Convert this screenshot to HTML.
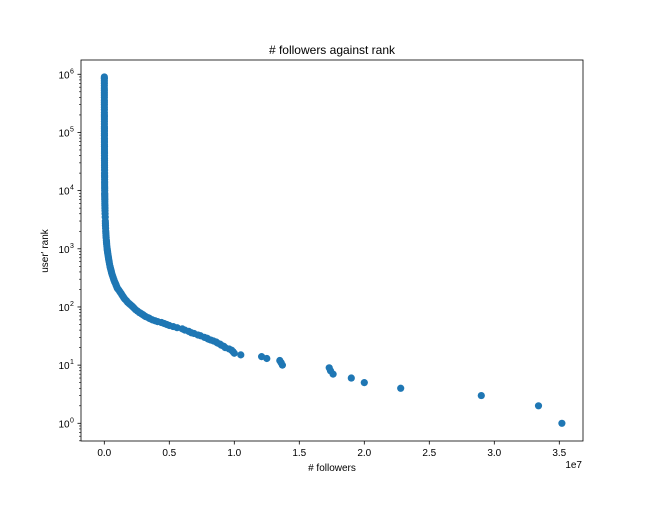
<!DOCTYPE html>
<html><head><meta charset="utf-8"><style>
body{margin:0;background:#fff;}
svg text{font-family:"Liberation Sans","DejaVu Sans",sans-serif;fill:#000;}
</style></head><body>
<svg id="chart" width="648" height="504" viewBox="0 0 648 504">
<rect x="0" y="0" width="648" height="504" fill="#fff"/>
<text x="332" y="54" font-size="12" text-anchor="middle"># followers against rank</text>
<g id="marks"></g>
<g id="axes"></g>
<text x="332" y="471" font-size="10" text-anchor="middle"># followers</text>
<text x="582" y="468" font-size="10" text-anchor="end">1e7</text>
<text transform="translate(48,251) rotate(-90)" font-size="10" text-anchor="middle">user' rank</text>
</svg>
<script>
const ranks = [1,2,3,4,5,6,7,8,9,10,11,12,13,14,15,16,17,18,19,
20,21,22,23,24,25,26,27,28,29,30,32,33,35,36,38,40,42,44,46,48,50,52,54,56,58,60,63,65,68,70,73,75,78,80,85,90,95,100,105,110,115,120,128,135,142,150,160,170,180,190,200,210,225,240,255,270,285,300,325,350,375,400,425,450,475,500,550,600,650,700,750,800,850,900,950,1000,1100,1200,1300,1400,1550,1700,1850,2000,2250,2500,2750,3000,3500,4000,4500,5000,
5500,6000,6500,7000,7500,8000,8500,9000,10000,11000,12000,13000,14000,15500,17000,18500,20000,22500,25000,27500,30000,33000,36000,40000,44000,48000,52000,57000,62000,68000,74000,80000,88000,96000,105000,115000,125000,140000,155000,170000,185000,200000,220000,245000,270000,300000,330000,360000,400000,440000,480000,530000,580000,640000,700000,770000,840000,900000];
const followers = [3.52,3.34,2.90,2.28,2.00,1.90,1.76,1.74,1.73,1.37,1.36,1.35,1.25,1.21,1.05,1.00,0.99,0.98,0.96,
0.93,0.92,0.90,0.89,0.87,0.86,0.84,0.82,0.80,0.79,0.77,0.74,0.72,0.69,0.67,0.65,0.62,0.60,0.56,0.53,0.50,0.48,0.46,0.44,0.41,0.39,0.37,0.35,0.34,0.32,0.31,0.30,0.29,0.28,0.27,0.255,0.24,0.23,0.22,0.21,0.20,0.19,0.18,0.17,0.16,0.152,0.145,0.137,0.13,0.122,0.115,0.108,0.10,0.095,0.09,0.085,0.08,0.076,0.072,0.067,0.062,0.058,0.055,0.052,0.049,0.046,0.044,0.040,0.037,0.034,0.032,0.030,0.028,0.026,0.025,0.023,0.022,0.020,0.018,0.017,0.016,0.014,0.013,0.012,0.011,0.010,0.009,0.0085,0.008,0.007,0.006,0.0055,0.005,
0.0045,0.004,0.004,0.0038,0.0036,0.0034,0.0032,0.003,0.003,0.0028,0.0027,0.0026,0.0025,0.0024,0.0023,0.0022,0.0021,0.002,0.0019,0.0018,0.0018,0.0017,0.0016,0.0015,0.0015,0.0014,0.0013,0.0013,0.0012,0.0012,0.0011,0.0011,0.001,0.001,0.001,0.0009,0.0009,0.0009,0.0008,0.0008,0.0008,0.0007,0.0007,0.0007,0.0006,0.0006,0.0006,0.0006,0.0005,0.0005,0.0005,0.0005,0.0004,0.0004,0.0004,0.0004,0.0004,0.0004];
const xTicks = [0,0.5,1.0,1.5,2.0,2.5,3.0,3.5];
const xTickLabels = ["0.0","0.5","1.0","1.5","2.0","2.5","3.0","3.5"];
const yExps = [0,1,2,3,4,5,6];

const L=81,R=583,T=60,B=441;
const xScale = v => 104.3 + v*130;
const yScale = r => 423.3 - Math.log10(r)*58.17;
const NS="http://www.w3.org/2000/svg";
const marks=document.getElementById('marks');
for(let i=0;i<ranks.length;i++){
  const c=document.createElementNS(NS,'circle');
  c.setAttribute('cx',xScale(followers[i]));
  c.setAttribute('cy',yScale(ranks[i]));
  c.setAttribute('r',3.6);
  c.setAttribute('fill','#1f77b4');
  
  
  marks.appendChild(c);
}
const ax=document.getElementById('axes');
function el(tag,attrs,txt){const e=document.createElementNS(NS,tag);for(const k in attrs)e.setAttribute(k,attrs[k]);if(txt!==undefined)e.textContent=txt;ax.appendChild(e);return e;}
const frame=el('rect',{x:L,y:T,width:R-L,height:B-T,fill:'none',stroke:'#000','stroke-width':0.8});


xTicks.forEach((v,i)=>{
  const x=xScale(v);
  el('line',{x1:x,x2:x,y1:B,y2:B+3.5,stroke:'#000','stroke-width':0.8});
  const t=el('text',{x:x,y:B+15,'font-size':10,'text-anchor':'middle'},xTickLabels[i]);
  
  
});
yExps.forEach(e=>{
  const y=yScale(Math.pow(10,e));
  el('line',{x1:L-3.5,x2:L,y1:y,y2:y,stroke:'#000','stroke-width':0.8});
  const t=el('text',{x:L-17,y:y+4,'font-size':10,'text-anchor':'middle'},'10');
  
  
  el('text',{x:L-9,y:y-1,'font-size':7,'text-anchor':'middle'},String(e));
});
for(let e=-1;e<=6;e++){for(let m=2;m<=9;m++){
  const y=yScale(m*Math.pow(10,e));
  if(y<T||y>B)continue;
  el('line',{x1:L-2,x2:L,y1:y,y2:y,stroke:'#000','stroke-width':0.6});
}}
</script>
</body></html>
